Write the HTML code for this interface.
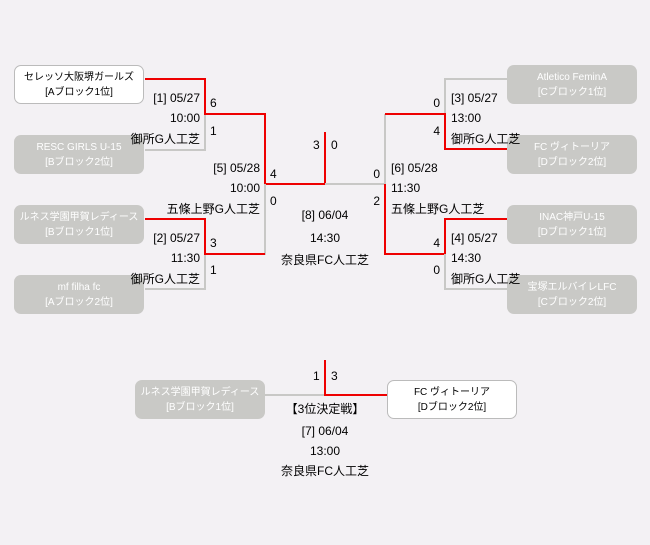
<!DOCTYPE html>
<html><head><meta charset="utf-8"><style>
body{margin:0;width:650px;height:545px;background:#f3f1f4;position:relative;overflow:hidden;font-family:"Liberation Sans","Noto Sans CJK JP",sans-serif;}
.b{position:absolute;width:130px;height:39px;border-radius:7px;background:#c9c9c6;color:#fff;font-size:10px;text-align:center;line-height:15px;box-sizing:border-box;padding-top:5px;}
.w{background:#fff;color:#000;border:1px solid #bbb;padding-top:4px;}
.t{position:absolute;font-size:12px;line-height:16px;white-space:nowrap;color:#000;}
.r{text-align:right;}
.c{text-align:center;width:140px;}
svg{position:absolute;left:0;top:0;}
</style></head><body>
<svg width="650" height="545">
<g fill="none" stroke-width="2">
<path d="M145 150H205V114" stroke="#c8c8c6"/>
<path d="M145 79H205V114H265V184H325V132" stroke="#e00"/>
<path d="M145 289H205V254" stroke="#c8c8c6"/>
<path d="M265 184V254H205" stroke="#c8c8c6"/>
<path d="M145 219H205V254H265" stroke="#e00"/>
<path d="M507 79H445V114" stroke="#c8c8c6"/>
<path d="M385 114H445V149H507" stroke="#e00"/>
<path d="M325 184H385V114" stroke="#c8c8c6"/>
<path d="M385 114H445" stroke="#e00"/>
<path d="M507 219H445V254H385V184" stroke="#e00"/>
<path d="M445 254V289H507" stroke="#c8c8c6"/>
<path d="M265 395H325" stroke="#c8c8c6"/>
<path d="M325 360V395H387" stroke="#e00"/>
</g></svg>
<div class="b w" style="left:14px;top:65px">セレッソ大阪堺ガールズ<br>[Aブロック1位]</div>
<div class="b" style="left:14px;top:135px">RESC GIRLS U-15<br>[Bブロック2位]</div>
<div class="b" style="left:14px;top:205px">ルネス学園甲賀レディース<br>[Bブロック1位]</div>
<div class="b" style="left:14px;top:275px">mf filha fc<br>[Aブロック2位]</div>
<div class="b" style="left:507px;top:65px">Atletico FeminA<br>[Cブロック1位]</div>
<div class="b" style="left:507px;top:135px">FC ヴィトーリア<br>[Dブロック2位]</div>
<div class="b" style="left:507px;top:205px">INAC神戸U-15<br>[Dブロック1位]</div>
<div class="b" style="left:507px;top:275px">宝塚エルバイレLFC<br>[Cブロック2位]</div>
<div class="b" style="left:135px;top:380px">ルネス学園甲賀レディース<br>[Bブロック1位]</div>
<div class="b w" style="left:387px;top:380px">FC ヴィトーリア<br>[Dブロック2位]</div>

<div class="t r" style="right:450px;top:90px">[1] 05/27</div>
<div class="t r" style="right:450px;top:110px">10:00</div>
<div class="t r" style="right:450px;top:131px">御所G人工芝</div>
<div class="t" style="left:210px;top:95px">6</div>
<div class="t" style="left:210px;top:123px">1</div>
<div class="t r" style="right:390px;top:160px">[5] 05/28</div>
<div class="t r" style="right:390px;top:180px">10:00</div>
<div class="t r" style="right:390px;top:201px">五條上野G人工芝</div>
<div class="t" style="left:270px;top:166px">4</div>
<div class="t" style="left:270px;top:193px">0</div>
<div class="t r" style="right:450px;top:230px">[2] 05/27</div>
<div class="t r" style="right:450px;top:250px">11:30</div>
<div class="t r" style="right:450px;top:271px">御所G人工芝</div>
<div class="t" style="left:210px;top:235px">3</div>
<div class="t" style="left:210px;top:262px">1</div>

<div class="t" style="left:313px;top:137px">3</div>
<div class="t" style="left:331px;top:137px">0</div>
<div class="t c" style="left:255px;top:207px">[8] 06/04</div>
<div class="t c" style="left:255px;top:230px">14:30</div>
<div class="t c" style="left:255px;top:252px">奈良県FC人工芝</div>

<div class="t r" style="right:210px;top:95px">0</div>
<div class="t r" style="right:210px;top:123px">4</div>
<div class="t" style="left:451px;top:90px">[3] 05/27</div>
<div class="t" style="left:451px;top:110px">13:00</div>
<div class="t" style="left:451px;top:131px">御所G人工芝</div>
<div class="t r" style="right:270px;top:166px">0</div>
<div class="t r" style="right:270px;top:193px">2</div>
<div class="t" style="left:391px;top:160px">[6] 05/28</div>
<div class="t" style="left:391px;top:180px">11:30</div>
<div class="t" style="left:391px;top:201px">五條上野G人工芝</div>
<div class="t r" style="right:210px;top:235px">4</div>
<div class="t r" style="right:210px;top:262px">0</div>
<div class="t" style="left:451px;top:230px">[4] 05/27</div>
<div class="t" style="left:451px;top:250px">14:30</div>
<div class="t" style="left:451px;top:271px">御所G人工芝</div>

<div class="t" style="left:313px;top:368px">1</div>
<div class="t" style="left:331px;top:368px">3</div>
<div class="t c" style="left:255px;top:401px">【3位決定戦】</div>
<div class="t c" style="left:255px;top:423px">[7] 06/04</div>
<div class="t c" style="left:255px;top:443px">13:00</div>
<div class="t c" style="left:255px;top:463px">奈良県FC人工芝</div>
</body></html>
